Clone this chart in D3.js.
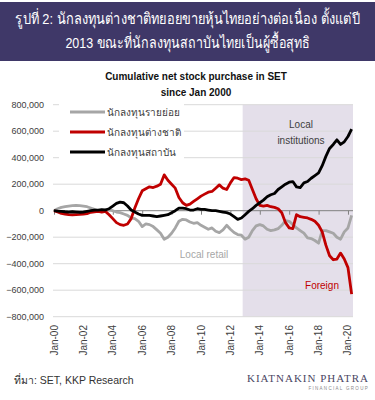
<!DOCTYPE html>
<html>
<head>
<meta charset="utf-8">
<script src="https://cdn.jsdelivr.net/npm/d3@7"></script>
<style>
  body { margin: 0; background: #fff; }
  text { font-family: "Liberation Sans", Arial, sans-serif; }
</style>
</head>
<body>
<script>
  var w = 375 //page width
  var h = 400 //page height

  //DATA (net cumulative purchase, THB mn, quarterly readings)
  var dates = [
      "2000-01", "2000-04", "2000-07", "2000-10", "2001-01", "2001-04", "2001-07", "2001-10",
      "2002-01", "2002-04", "2002-07", "2002-10", "2003-01", "2003-04", "2003-07", "2003-10",
      "2004-01", "2004-04", "2004-07", "2004-10", "2005-01", "2005-04", "2005-07", "2005-10",
      "2006-01", "2006-04", "2006-07", "2006-10", "2007-01", "2007-04", "2007-07", "2007-10",
      "2008-01", "2008-04", "2008-07", "2008-10", "2009-01", "2009-04", "2009-07", "2009-10",
      "2010-01", "2010-04", "2010-07", "2010-10", "2011-01", "2011-04", "2011-07", "2011-10",
      "2012-01", "2012-04", "2012-07", "2012-10", "2013-01", "2013-04", "2013-07", "2013-10",
      "2014-01", "2014-04", "2014-07", "2014-10", "2015-01", "2015-04", "2015-07", "2015-10",
      "2016-01", "2016-04", "2016-07", "2016-10", "2017-01", "2017-04", "2017-07", "2017-10",
      "2018-01", "2018-04", "2018-07", "2018-10", "2019-01", "2019-04", "2019-07", "2019-10",
      "2020-01", "2020-04"
  ];

  var retail = [
      0, 15000, 25000, 30000, 35000, 38000, 40000, 38000,
      35000, 30000, 20000, 10000, 0, 5000, 10000, 5000,
      0, -10000, -15000, -25000, -35000, -55000, -60000, -80000,
      -120000, -100000, -105000, -120000, -145000, -170000, -215000, -200000,
      -170000, -130000, -80000, -65000, -70000, -85000, -95000, -90000,
      -110000, -125000, -140000, -130000, -155000, -165000, -145000, -110000,
      -140000, -165000, -180000, -185000, -215000, -200000, -150000, -115000,
      -105000, -115000, -140000, -150000, -145000, -135000, -110000, -75000,
      -80000, -105000, -130000, -150000, -170000, -205000, -210000, -225000,
      -245000, -150000, -150000, -160000, -170000, -200000, -215000, -160000,
      -130000, -35000
  ];

  var foreign = [
      0, -10000, -20000, -25000, -30000, -32000, -30000, -28000,
      -25000, -22000, -12000, -8000, -5000, -10000, -5000, -30000,
      -60000, -90000, -105000, -110000, -100000, -60000, 20000, 90000,
      150000, 165000, 180000, 175000, 185000, 200000, 270000, 230000,
      200000, 170000, 100000, 60000, 40000, 50000, 70000, 90000,
      110000, 125000, 140000, 145000, 170000, 195000, 170000, 160000,
      210000, 250000, 245000, 235000, 240000, 230000, 160000, 90000,
      40000, 35000, 40000, 30000, 25000, 15000, -15000, -90000,
      -130000, -135000, -30000, -45000, -50000, -55000, -65000, -80000,
      -110000, -160000, -260000, -340000, -370000, -365000, -320000, -365000,
      -430000, -630000
  ];

  var institutions = [
      0, -3000, -5000, -8000, -10000, -8000, -10000, -12000,
      -10000, -5000, 0, 5000, 5000, 8000, 5000, 15000,
      35000, 55000, 65000, 60000, 35000, 5000, -10000, -25000,
      -35000, -35000, -35000, -40000, -45000, -40000, -35000, -30000,
      -15000, 0, 20000, 20000, 15000, 5000, 5000, 15000,
      10000, 10000, 5000, 0, 0, -5000, -10000, -15000,
      -25000, -45000, -65000, -55000, -30000, -5000, 15000, 40000,
      60000, 80000, 105000, 120000, 130000, 160000, 180000, 200000,
      215000, 220000, 180000, 175000, 210000, 220000, 245000, 265000,
      285000, 340000, 410000, 470000, 500000, 535000, 500000, 520000,
      560000, 615000
  ];

  var yTicks = [800000, 600000, 400000, 200000, 0, -200000, -400000, -600000, -800000];
  var xTickDates = ["2000-01", "2002-01", "2004-01", "2006-01", "2008-01", "2010-01",
      "2012-01", "2014-01", "2016-01", "2018-01", "2020-01"];
  var shadeStart = "2012-11";

  var seriesNames = ["นักลงทุนรายย่อย", "นักลงทุนต่างชาติ", "นักลงทุนสถาบัน"];
  var seriesColors = ["#a6a6a6", "#c00000", "#000000"];
  var seriesValues = [retail, foreign, institutions];

  var headLines = ["รูปที่ 2: นักลงทุนต่างชาติทยอยขายหุ้นไทยอย่างต่อเนื่อง ตั้งแต่ปี",
      "2013 ขณะที่นักลงทุนสถาบันไทยเป็นผู้ซื้อสุทธิ"];
  var headWidths = [346, 240];

  var parse = d3.timeParse("%Y-%m");
  var fmtTick = d3.timeFormat("Jan-%y");

  //SCALES

  var x = d3.scaleTime()
      .domain([new Date(1999, 11, 7), new Date(2020, 4, 5)])
      .range([53, 353]);

  var y = d3.scaleLinear()
      .domain([-800000, 800000])
      .range([316.7, 104.7]);

  var svg = d3.select("body")
      .append("svg")
      .attr("width", w)
      .attr("height", h);

  //HEADER

  svg.append("rect")
      .attr("x", 0)
      .attr("y", 2)
      .attr("width", w)
      .attr("height", 59)
      .attr("fill", "#3f3868");

  //squeeze each heading line horizontally to the width it has in the original
  svg.selectAll(".head")
      .data(headLines)
      .enter()
      .append("text")
      .attr("class", "head")
      .attr("text-anchor", "middle")
      .attr("font-size", "15.5px")
      .attr("fill", "#ffffff")
      .text(function (d) { return d; })
      .attr("transform", function (d, i) {
          var natural = this.getComputedTextLength();
          var k = Math.min(1, headWidths[i] / natural);
          return "translate(" + (w / 2) + "," + (24 + i * 24) + ") scale(" + k + ",1)";
      });

  //CHART TITLE

  svg.selectAll(".ctitle")
      .data(["Cumulative net stock purchase in SET", "since Jan 2000"])
      .enter()
      .append("text")
      .attr("class", "ctitle")
      .attr("x", 196)
      .attr("y", function (d, i) { return 80 + i * 16; })
      .attr("text-anchor", "middle")
      .attr("font-size", "10px")
      .attr("font-weight", "bold")
      .attr("fill", "#111")
      .text(function (d) { return d; });

  //SHADED PERIOD

  svg.append("rect")
      .attr("x", x(parse(shadeStart)))
      .attr("y", y(800000))
      .attr("width", x.range()[1] - x(parse(shadeStart)))
      .attr("height", y(-800000) - y(800000))
      .attr("fill", "#e4dfea");

  //GRID + Y LABELS

  svg.selectAll(".grid")
      .data(yTicks.filter(function (d) { return d != 0; }))
      .enter()
      .append("line")
      .attr("class", "grid")
      .attr("x1", x.range()[0])
      .attr("x2", x.range()[1])
      .attr("y1", function (d) { return y(d); })
      .attr("y2", function (d) { return y(d); })
      .attr("stroke", "#d9d9d9")
      .attr("stroke-width", 1);

  svg.selectAll(".ylab")
      .data(yTicks)
      .enter()
      .append("text")
      .attr("class", "ylab")
      .attr("x", 44)
      .attr("y", function (d) { return y(d); })
      .attr("dy", "0.35em")
      .attr("text-anchor", "end")
      .attr("font-size", "9px")
      .attr("fill", "#404040")
      .text(function (d) { return d3.format(",")(d); });

  //ZERO LINE WITH TICKS

  var zero = svg.append("g")
      .attr("transform", "translate(0," + y(0) + ")")
      .call(d3.axisBottom(x)
          .tickValues(xTickDates.map(parse))
          .tickSize(4)
          .tickFormat(""));
  zero.select(".domain").attr("stroke", "#808080").attr("d", "M" + x.range()[0] + ",0H" + x.range()[1]);
  zero.selectAll(".tick line").attr("stroke", "#808080");

  //X LABELS

  svg.selectAll(".xlab")
      .data(xTickDates)
      .enter()
      .append("text")
      .attr("class", "xlab")
      .attr("transform", function (d) {
          return "translate(" + x(parse(d)) + ",325) rotate(-90)";
      })
      .attr("dy", "0.35em")
      .attr("text-anchor", "end")
      .attr("font-size", "10px")
      .attr("fill", "#404040")
      .text(function (d) { return fmtTick(parse(d)); });

  //LINES

  var line = d3.line()
      .x(function (d, i) { return x(parse(dates[i])); })
      .y(function (d) { return y(d); });

  svg.selectAll(".series")
      .data(seriesValues)
      .enter()
      .append("path")
      .attr("class", "series")
      .attr("d", line)
      .attr("fill", "none")
      .attr("stroke", function (d, i) { return seriesColors[i]; })
      .attr("stroke-width", 2.8)
      .attr("stroke-linejoin", "round");

  //LEGEND

  svg.append("rect")
      .attr("x", 59)
      .attr("y", 99)
      .attr("width", 125)
      .attr("height", 63)
      .attr("fill", "#ffffff");

  var legend = svg.selectAll(".leg")
      .data(seriesNames)
      .enter()
      .append("g")
      .attr("class", "leg")
      .attr("transform", function (d, i) { return "translate(70," + (112 + i * 20) + ")"; });

  legend.append("line")
      .attr("x1", 0)
      .attr("x2", 35)
      .attr("stroke", function (d, i) { return seriesColors[i]; })
      .attr("stroke-width", 3);

  legend.append("text")
      .attr("x", 37)
      .attr("dy", "0.35em")
      .attr("font-size", "10px")
      .attr("fill", "#404040")
      .text(function (d) { return d; });

  //ANNOTATIONS

  svg.append("text").attr("x", 301).attr("y", 128).attr("text-anchor", "middle")
      .attr("font-size", "10px").attr("fill", "#404040").text("Local");
  svg.append("text").attr("x", 301).attr("y", 144).attr("text-anchor", "middle")
      .attr("font-size", "10px").attr("fill", "#404040").text("institutions");
  svg.append("text").attr("x", 204).attr("y", 258).attr("text-anchor", "middle")
      .attr("font-size", "10px").attr("fill", "#a6a6a6").text("Local retail");
  svg.append("text").attr("x", 322).attr("y", 289).attr("text-anchor", "middle")
      .attr("font-size", "10px").attr("fill", "#c00000").text("Foreign");

  //FOOTER

  svg.append("text")
      .attr("x", 14)
      .attr("y", 384)
      .attr("font-size", "10.5px")
      .attr("fill", "#333")
      .text("ที่มา: SET, KKP Research");

  svg.append("text")
      .attr("x", 369)
      .attr("y", 382)
      .attr("text-anchor", "end")
      .attr("font-size", "11px")
      .attr("letter-spacing", "1px")
      .attr("fill", "#4a4663")
      .style("font-family", "'Liberation Serif', serif")
      .text("KIATNAKIN PHATRA");

  svg.append("text")
      .attr("x", 369)
      .attr("y", 390)
      .attr("text-anchor", "end")
      .attr("font-size", "4.5px")
      .attr("letter-spacing", "1.3px")
      .attr("fill", "#8a8a8a")
      .text("FINANCIAL GROUP");
</script>
</body>
</html>
